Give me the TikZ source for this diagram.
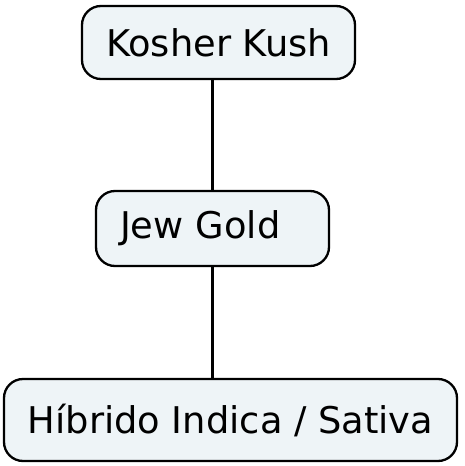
\documentclass[tikz,border=0pt]{standalone}
\usepackage{fontspec}
\setmainfont{DejaVu Sans}
\definecolor{boxfill}{HTML}{EEF4F7}

\begin{document}
\begin{tikzpicture}[x=1pt,y=1pt]
% Box style
\tikzset{
    strain/.style={draw=black, line width=2.3pt, fill=boxfill,
        rounded corners=19pt, inner sep=0pt,
        font=\fontsize{36.8}{42}\selectfont}
}
\useasboundingbox (0,0) rectangle (464,-466);
% Strains
\node[strain, minimum width=273pt, minimum height=73pt] (KK) at (218.5,-42.5){Kosher Kush};
\node[strain, minimum width=233pt, minimum height=75pt, text width=185pt, align=left] (JG) at (212.5,-228.5){Jew Gold};
\node[strain, minimum width=453pt, minimum height=82pt] (HB) at (230.5,-420){Híbrido Indica / Sativa};
% Connection
\draw[line width=2.3pt] (JG.north) -- (JG.north |- KK.south);
\draw[line width=2.3pt] (JG.south) -- (JG.south |- HB.north);
\end{tikzpicture}
\end{document}
